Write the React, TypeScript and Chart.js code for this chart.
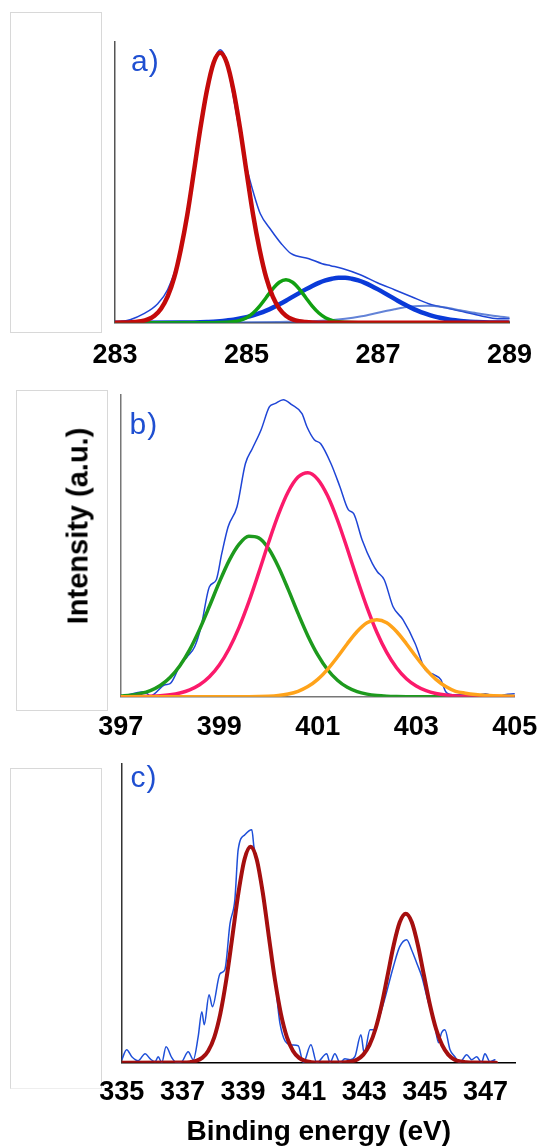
import React, { useEffect, useRef } from "react";
import { Chart, registerables } from "chart.js";

Chart.register(...registerables);

const FONT = "'Liberation Sans', Arial, Helvetica, sans-serif";

// ---------- Panel a) C 1s ----------
const aTicks = [283, 285, 287, 289];
const aEnvX = [283.0, 283.23, 283.44, 283.65, 283.8, 283.96, 284.12, 284.27, 284.4, 284.51, 284.6, 284.69, 284.8, 284.9, 285.0, 285.11, 285.21, 285.37, 285.53, 285.68, 285.95, 286.15, 286.28, 286.47, 286.73, 286.99, 287.25, 287.51, 287.77, 287.88, 288.03, 288.3, 288.56, 288.82, 289.0];
const aEnvY = [0, 3, 9, 19, 33, 63, 116, 183, 233, 263, 273, 263, 226, 189, 156, 129, 109, 93, 79, 69, 64, 59, 57, 54, 48, 40, 33, 26, 19, 17, 15, 11, 7, 4, 4];
const aRedX = [283.0, 283.1, 283.2, 283.3, 283.4, 283.5, 283.6, 283.7, 283.8, 283.9, 284.0, 284.1, 284.2, 284.3, 284.4, 284.5, 284.6, 284.7, 284.8, 284.9, 285.0, 285.1, 285.2, 285.3, 285.4, 285.5, 285.6, 285.7, 285.8, 285.9, 286.0, 286.2, 289.0];
const aRedY = [0, 0.1, 0.2, 0.6, 1.4, 3.3, 7, 14, 26, 45, 73, 108, 151, 195, 233, 260, 270, 260, 233, 195, 151, 108, 73, 45, 26, 14, 7, 3.3, 1.4, 0.6, 0.2, 0, 0];
const aGreenX = [283.0, 284.5, 284.6, 284.7, 284.8, 284.9, 285.0, 285.1, 285.2, 285.3, 285.4, 285.5, 285.6, 285.7, 285.8, 285.9, 286.0, 286.1, 286.2, 286.3, 286.4, 286.5, 286.6, 286.7, 289.0];
const aGreenY = [0, 0, 0.1, 0.35, 0.95, 2.3, 5.0, 9.7, 16.6, 25.2, 33.9, 40.5, 43, 40.5, 33.9, 25.2, 16.6, 9.7, 5.0, 2.3, 0.95, 0.35, 0.1, 0, 0];
const aBlueX = [283.0, 284.0, 284.1, 284.2, 284.3, 284.4, 284.5, 284.6, 284.7, 284.8, 284.9, 285.0, 285.1, 285.2, 285.3, 285.4, 285.5, 285.6, 285.7, 285.8, 285.9, 286.0, 286.1, 286.2, 286.3, 286.4, 286.5, 286.6, 286.7, 286.8, 286.9, 287.0, 287.1, 287.2, 287.3, 287.4, 287.5, 287.6, 287.7, 287.8, 287.9, 288.0, 288.1, 288.2, 288.3, 288.4, 288.5, 288.6, 288.7, 288.8, 288.9, 289.0];
const aBlueY = [0, 0.12, 0.19, 0.3, 0.46, 0.7, 1.0, 1.5, 2.2, 3.0, 4.2, 5.6, 7.4, 9.5, 12.1, 15.1, 18.4, 22.0, 25.8, 29.6, 33.3, 36.8, 39.9, 42.3, 44.0, 44.9, 44.9, 44.0, 42.3, 39.9, 36.8, 33.3, 29.6, 25.8, 22.0, 18.4, 15.1, 12.1, 9.5, 7.4, 5.6, 4.2, 3.0, 2.2, 1.5, 1.0, 0.7, 0.46, 0.3, 0.19, 0.12, 0.07];
const aThinX = [283.0, 284.5, 285.5, 286.0, 286.5, 286.75, 287.0, 287.25, 287.5, 287.75, 288.0, 288.25, 288.5, 288.75, 289.0];
const aThinY = [0, 0.2, 0.8, 1.5, 4, 6.5, 10, 13.5, 16.2, 17, 15.5, 12.5, 9.5, 7, 5];

// ---------- Panel b) N 1s ----------
const bTicks = [397, 399, 401, 403, 405];
const bEnvX = [397.0, 397.48, 397.6, 397.9, 398.0, 398.21, 398.35, 398.5, 398.63, 398.8, 398.94, 399.05, 399.18, 399.36, 399.53, 399.67, 399.85, 400.02, 400.13, 400.3, 400.47, 400.68, 400.78, 400.93, 401.06, 401.27, 401.45, 401.62, 401.73, 401.9, 402.11, 402.21, 402.35, 402.53, 402.73, 402.98, 403.18, 403.36, 403.5, 403.6, 403.74, 404.3, 404.4, 404.64, 404.8, 405.0];
const bEnvY = [0, 5, 0.7, 12, 13, 32, 40, 50, 70, 110, 117, 143, 170, 190, 233, 248, 267, 290, 293, 297, 292, 283, 270, 257, 253, 233, 210, 187, 183, 157, 133, 125, 117, 90, 77, 53, 27, 22, 17, 5, 2, 2, 3, 0, 2, 3];
const bGreenX = [397.0, 397.2, 397.4, 397.6, 397.8, 398.0, 398.2, 398.4, 398.6, 398.8, 399.0, 399.2, 399.4, 399.6, 399.8, 400.0, 400.2, 400.4, 400.6, 400.8, 401.0, 401.2, 401.4, 401.6, 401.8, 402.0, 402.2, 402.4, 402.6, 403.0, 405.0];
const bGreenY = [0.7, 1.5, 3.2, 6.1, 11.2, 19.2, 31.0, 47.1, 67.3, 90.4, 114.4, 136.1, 152.3, 160.4, 158.9, 148.2, 130.0, 107.3, 83.3, 60.8, 41.8, 27.0, 16.5, 9.4, 5.1, 2.6, 1.2, 0.5, 0.2, 0, 0];
const bPinkX = [397.0, 397.4, 397.8, 398.0, 398.2, 398.4, 398.6, 398.8, 399.0, 399.2, 399.4, 399.6, 399.8, 400.0, 400.2, 400.4, 400.6, 400.8, 401.0, 401.2, 401.4, 401.6, 401.8, 402.0, 402.2, 402.4, 402.6, 402.8, 403.0, 403.2, 403.4, 403.6, 403.8, 404.0, 404.4, 405.0];
const bPinkY = [0.03, 0.2, 0.9, 1.9, 3.7, 6.8, 11.9, 19.9, 31.7, 48.0, 69.1, 94.8, 123.8, 153.9, 182.0, 204.9, 219.6, 224.0, 217.4, 200.9, 176.7, 147.9, 117.8, 89.4, 64.5, 44.3, 29.0, 18.0, 10.7, 6.0, 3.2, 1.6, 0.8, 0.4, 0.1, 0];
const bOrangeX = [397.0, 399.6, 400.0, 400.2, 400.4, 400.6, 400.8, 401.0, 401.2, 401.4, 401.6, 401.8, 402.0, 402.2, 402.4, 402.6, 402.8, 403.0, 403.2, 403.4, 403.6, 403.8, 404.0, 404.2, 404.4, 404.8, 405.0];
const bOrangeY = [0, 0.07, 0.5, 1.2, 2.7, 5.4, 10.1, 17.3, 27.4, 39.7, 53.0, 65.2, 73.9, 77, 73.9, 65.2, 53.0, 39.7, 27.4, 17.3, 10.1, 5.4, 3.5, 2.2, 1.4, 0.6, 0.4];

// ---------- Panel c) Binding energy 335-348 ----------
const cTicks = [335, 337, 339, 341, 343, 345, 347];
const cEnvX = [335.0, 335.16, 335.33, 335.54, 335.77, 335.93, 336.1, 336.2, 336.32, 336.46, 336.65, 336.81, 336.98, 337.19, 337.36, 337.52, 337.64, 337.72, 337.88, 337.99, 338.24, 338.4, 338.57, 338.73, 338.84, 339.06, 339.29, 339.36, 339.53, 339.7, 339.9, 340.05, 340.22, 340.55, 340.82, 340.99, 341.24, 341.43, 341.76, 341.87, 342.03, 342.2, 342.36, 342.53, 342.69, 342.89, 343.0, 343.19, 343.3, 343.63, 343.96, 344.17, 344.4, 344.56, 344.74, 344.9, 345.1, 345.3, 345.45, 345.55, 345.66, 345.83, 345.99, 346.15, 346.38, 346.54, 346.71, 346.87, 346.98, 347.15, 347.31];
const cEnvY = [3, 13, 6, 2, 9, 4, 1, 6, 0, 16, 5, 0, 1, 11, 3, 26, 51, 38, 68, 56, 89, 93, 139, 163, 213, 228, 233, 216, 193, 160, 117, 85, 39, 18, 17, 0, 18, 0, 9, 0, 9, 0, 4, 3, 6, 28, 9, 33, 33, 59, 96, 116, 123, 113, 99, 86, 62, 42, 20, 30, 33, 13, 6, 0, 8, 3, 6, 0, 9, 1, 3];
const cFitX = [335.0, 337.05, 337.25, 337.45, 337.65, 337.85, 338.05, 338.25, 338.45, 338.65, 338.85, 339.05, 339.25, 339.45, 339.65, 339.85, 340.05, 340.25, 340.45, 340.65, 340.85, 341.05, 341.25, 341.45, 342.17, 342.37, 342.57, 342.77, 342.97, 343.17, 343.37, 343.57, 343.77, 343.97, 344.17, 344.37, 344.57, 344.77, 344.97, 345.17, 345.37, 345.57, 345.77, 345.97, 346.17, 346.37, 346.57, 347.35];
const cFitY = [0, 0.16, 0.57, 1.75, 4.8, 11.8, 25.4, 48.9, 83.4, 126.5, 170.3, 203.5, 216, 203.5, 170.3, 126.5, 83.4, 48.9, 25.4, 11.8, 4.8, 1.75, 0.57, 0.16, 0.1, 0.4, 1.2, 3.3, 8.1, 17.5, 33.7, 57.5, 87.3, 117.5, 140.4, 149, 140.4, 117.5, 87.3, 57.5, 33.7, 17.5, 8.1, 3.3, 1.2, 0.4, 0.1, 0];

type Line = { xs: number[]; ys: number[]; color: string; width: number };

type PanelProps = {
  top: number;
  height: number;
  padTop: number;
  padLeft: number;
  padRight: number;
  chartBottom: number;
  xMin: number;
  xMax: number;
  yMax: number;
  ticks: number[];
  tickLine: number;
  lines: Line[];
  yBorder: string;
  xBorder: string;
  xTitle?: string;
};

const TICK_SIZE = 27;

function XpsPanel(p: PanelProps) {
  const ref = useRef<HTMLCanvasElement | null>(null);
  useEffect(() => {
    const canvas = ref.current;
    if (!canvas) return;
    const xAxisH = p.height - p.chartBottom;
    const chart = new Chart(canvas, {
      type: "line",
      data: {
        datasets: p.lines.map((l) => ({
          data: l.xs.map((x, i) => ({ x, y: l.ys[i] })),
          borderColor: l.color,
          borderWidth: l.width,
          pointRadius: 0,
          fill: false,
          cubicInterpolationMode: "monotone" as const,
          borderJoinStyle: "round" as const,
          borderCapStyle: "round" as const,
        })),
      },
      options: {
        animation: false,
        responsive: false,
        events: [],
        layout: {
          autoPadding: false,
          padding: { top: p.padTop, left: p.padLeft, right: p.padRight, bottom: 0 },
        },
        plugins: { legend: { display: false }, tooltip: { enabled: false }, title: { display: false } },
        scales: {
          x: {
            type: "linear",
            position: "bottom",
            min: p.xMin,
            max: p.xMax,
            afterBuildTicks: (s: any) => {
              s.ticks = p.ticks.map((v) => ({ value: v }));
            },
            afterFit: (s: any) => {
              s.height = xAxisH;
            },
            grid: { display: false, drawTicks: false },
            border: { display: true, color: p.xBorder, width: 1.5 },
            ticks: {
              autoSkip: false,
              maxRotation: 0,
              minRotation: 0,
              padding: 0,
              color: "#000",
              font: { family: FONT, size: TICK_SIZE, weight: "bold", lineHeight: (p.tickLine * 2) / TICK_SIZE },
              callback: (v: any) => String(v),
            },
            title: p.xTitle
              ? {
                  display: true,
                  text: p.xTitle,
                  color: "#000",
                  font: { family: FONT, size: 28, weight: "bold", lineHeight: 1 },
                  padding: { top: 0, bottom: 0 },
                }
              : { display: false },
          },
          y: {
            type: "linear",
            min: 0,
            max: p.yMax,
            afterFit: (s: any) => {
              s.width = 0;
            },
            grid: { display: false, drawTicks: false },
            border: { display: true, color: p.yBorder, width: 1.5 },
            ticks: { display: false },
          },
        },
      } as any,
    });
    return () => chart.destroy();
  }, []);
  return (
    <canvas
      ref={ref}
      width={538}
      height={p.height}
      style={{ position: "absolute", left: 0, top: p.top, width: 538, height: p.height }}
    />
  );
}

const labelStyle = (left: number, top: number): React.CSSProperties => ({
  position: "absolute",
  left,
  top,
  fontFamily: FONT,
  fontSize: 30,
  lineHeight: 1,
  color: "#1f4fd1",
  letterSpacing: 1,
  whiteSpace: "nowrap",
});

const boxStyle = (left: number, top: number, width: number, height: number): React.CSSProperties => ({
  position: "absolute",
  left,
  top,
  width,
  height,
  boxSizing: "border-box",
  border: "1px solid #d8d8d8",
});

export default function App() {
  return (
    <div
      style={{
        position: "absolute",
        left: 0,
        top: 0,
        width: 538,
        height: 1146,
        overflow: "hidden",
        background: "#fff",
      }}
    >
      <div style={boxStyle(10, 12, 92, 320.5)} />
      <div style={boxStyle(16, 389.5, 91.5, 321)} />
      <div style={{ ...boxStyle(10, 767.5, 91.5, 321), borderBottomColor: "#eeeeee" }} />

      <XpsPanel
        top={0}
        height={380}
        padTop={41.7}
        padLeft={115}
        padRight={28.5}
        chartBottom={322.7}
        xMin={283}
        xMax={289}
        yMax={281}
        ticks={aTicks}
        tickLine={32.6}
        yBorder="#555"
        xBorder="#444"
        lines={[
          { xs: aRedX, ys: aRedY, color: "#c40a0a", width: 4.5 },
          { xs: aGreenX, ys: aGreenY, color: "#11a011", width: 3.5 },
          { xs: aBlueX, ys: aBlueY, color: "#0a3ad8", width: 4.5 },
          { xs: aThinX, ys: aThinY, color: "rgba(60,100,205,0.8)", width: 2 },
          { xs: aEnvX, ys: aEnvY, color: "#1f45d6", width: 1.5 },
        ]}
      />
      <XpsPanel
        top={380}
        height={370}
        padTop={15}
        padLeft={120.8}
        padRight={23.3}
        chartBottom={316.7}
        xMin={397}
        xMax={405}
        yMax={301.7}
        ticks={bTicks}
        tickLine={31}
        yBorder="#777"
        xBorder="#777"
        lines={[
          { xs: bOrangeX, ys: bOrangeY, color: "#ffa31a", width: 3.5 },
          { xs: bPinkX, ys: bPinkY, color: "#fb1a6b", width: 3.5 },
          { xs: bGreenX, ys: bGreenY, color: "#1d9a1d", width: 3.5 },
          { xs: bEnvX, ys: bEnvY, color: "#1f45d6", width: 1.5 },
        ]}
      />
      <XpsPanel
        top={750}
        height={396}
        padTop={14}
        padLeft={121.8}
        padRight={22.2}
        chartBottom={312.7}
        xMin={335}
        xMax={348}
        yMax={298.7}
        ticks={cTicks}
        tickLine={30}
        yBorder="#333"
        xBorder="#000"
        xTitle="Binding energy (eV)"
        lines={[
          { xs: cFitX, ys: cFitY, color: "#a50f0f", width: 4 },
          { xs: cEnvX, ys: cEnvY, color: "#1e4fd8", width: 1.5 },
        ]}
      />

      <div style={labelStyle(131, 46)}>a)</div>
      <div style={labelStyle(129.5, 408.5)}>b)</div>
      <div style={labelStyle(130.5, 762)}>c)</div>

      <div
        style={{
          position: "absolute",
          left: 78,
          top: 525.8,
          transform: "translate(-50%, -50%) rotate(-90deg)",
          fontFamily: FONT,
          fontWeight: "bold",
          fontSize: 29,
          lineHeight: 1,
          whiteSpace: "nowrap",
          color: "#000",
        }}
      >
        Intensity (a.u.)
      </div>
    </div>
  );
}
